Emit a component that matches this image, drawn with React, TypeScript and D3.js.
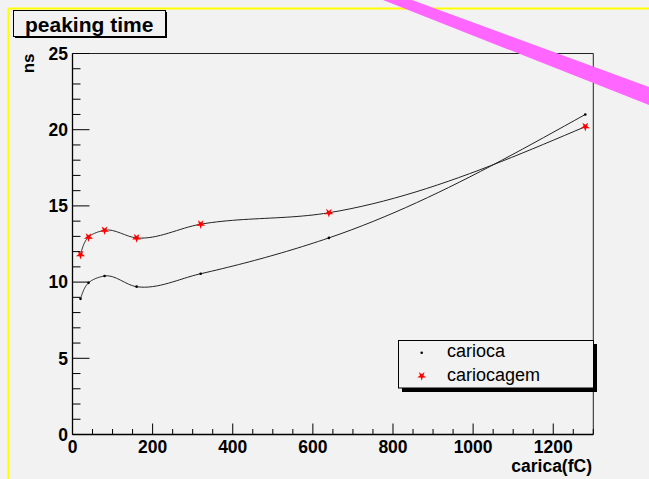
import React from "react";
import * as d3 from "d3";

// Injected charge (fC) and measured peaking times (ns)
const charge = [20, 40, 80, 160, 320, 640, 1280];
const carioca = [8.9, 9.95, 10.4, 9.7, 10.55, 12.9, 21.0];
const cariocagem = [11.8, 12.95, 13.4, 12.9, 13.8, 14.55, 20.2];

const xMajorTicks = [0, 200, 400, 600, 800, 1000, 1200];
const yMajorTicks = [0, 5, 10, 15, 20, 25];

const W = 649;
const H = 479;
const BG = "#f2f2f2";
const FONT = "'Liberation Sans', Arial, Helvetica, sans-serif";

type Pt = [number, number];

// Parametric cubic through screen points: chord-length parameter,
// Bessel tangents inside, natural end conditions at both ends.
function smoothPoints(pts: Pt[], steps = 24): Pt[] {
  const n = pts.length;
  const d: number[] = [];
  const u: Pt[] = [];
  for (let i = 0; i < n - 1; i++) {
    const dx = pts[i + 1][0] - pts[i][0];
    const dy = pts[i + 1][1] - pts[i][1];
    const len = Math.hypot(dx, dy) || 1e-6;
    d.push(len);
    u.push([dx / len, dy / len]);
  }
  const m: Pt[] = new Array(n);
  for (let i = 1; i < n - 1; i++) {
    const a = d[i];
    const b = d[i - 1];
    m[i] = [
      (a * u[i - 1][0] + b * u[i][0]) / (a + b),
      (a * u[i - 1][1] + b * u[i][1]) / (a + b),
    ];
  }
  m[0] = [(3 * u[0][0] - m[1][0]) / 2, (3 * u[0][1] - m[1][1]) / 2];
  m[n - 1] = [
    (3 * u[n - 2][0] - m[n - 2][0]) / 2,
    (3 * u[n - 2][1] - m[n - 2][1]) / 2,
  ];
  const out: Pt[] = [pts[0]];
  for (let i = 0; i < n - 1; i++) {
    const h = d[i];
    for (let k = 1; k <= steps; k++) {
      const s = k / steps;
      const s2 = s * s;
      const s3 = s2 * s;
      const h00 = 2 * s3 - 3 * s2 + 1;
      const h10 = s3 - 2 * s2 + s;
      const h01 = -2 * s3 + 3 * s2;
      const h11 = s3 - s2;
      out.push([
        h00 * pts[i][0] + h10 * h * m[i][0] + h01 * pts[i + 1][0] + h11 * h * m[i + 1][0],
        h00 * pts[i][1] + h10 * h * m[i][1] + h01 * pts[i + 1][1] + h11 * h * m[i + 1][1],
      ]);
    }
  }
  return out;
}

export default function App() {
  const x = d3.scaleLinear().domain([0, 1300]).range([72.5, 593.3]);
  const y = d3.scaleLinear().domain([0, 25]).range([434.5, 53.5]);

  const xMinor = d3.range(0, 1301, 50).filter((v) => v % 200 !== 0);
  const yMinor = d3.range(0, 26, 1).filter((v) => v % 5 !== 0);

  const line = d3.line<Pt>();
  const toScreen = (vals: number[]): Pt[] => vals.map((v, i) => [x(charge[i]), y(v)]);

  const pathA = line(smoothPoints(toScreen(carioca))) || "";
  const pathB = line(smoothPoints(toScreen(cariocagem))) || "";

  const star = d3.symbol().type(d3.symbolStar).size(26)() || "";

  const left = x.range()[0];
  const right = x.range()[1];
  const bottom = y.range()[0];
  const top = y.range()[1];

  return (
    <svg
      width={W}
      height={H}
      style={{ position: "absolute", left: 0, top: 0, background: BG }}
      fontFamily={FONT}
    >
      <rect x={0} y={0} width={W} height={H} fill={BG} />

      {/* pad border */}
      <line x1={8.5} y1={8.5} x2={W} y2={8.5} stroke="#ffff00" strokeWidth={2} />
      <line x1={8.5} y1={8.5} x2={8.5} y2={H} stroke="#ffff00" strokeWidth={2} />

      {/* frame */}
      <line x1={left} y1={top} x2={right} y2={top} stroke="#222" strokeWidth={1} />
      <line x1={right} y1={top} x2={right} y2={bottom} stroke="#222" strokeWidth={1} />

      {/* curves */}
      <path d={pathA} fill="none" stroke="#222" strokeWidth={1} />
      <path d={pathB} fill="none" stroke="#222" strokeWidth={1} />

      {carioca.map((v, i) => (
        <circle key={"a" + i} cx={x(charge[i])} cy={y(v)} r={1.3} fill="#000" />
      ))}
      {cariocagem.map((v, i) => (
        <path
          key={"b" + i}
          d={star}
          transform={`translate(${x(charge[i])},${y(v)}) rotate(180)`}
          fill="#ff0000"
        />
      ))}

      {/* y axis */}
      <line x1={left} y1={top} x2={left} y2={bottom} stroke="#000" strokeWidth={1.3} />
      {yMajorTicks.map((t) => (
        <g key={"ym" + t}>
          <line x1={left} x2={left + 17} y1={y(t)} y2={y(t)} stroke="#000" strokeWidth={1} />
          <text
            x={68}
            y={y(t) + 6.2}
            textAnchor="end"
            fontSize={17.5}
            fontWeight="bold"
            fill="#000"
          >
            {t}
          </text>
        </g>
      ))}
      {yMinor.map((t) => (
        <line key={"yn" + t} x1={left} x2={left + 8} y1={y(t)} y2={y(t)} stroke="#000" strokeWidth={1} />
      ))}

      {/* x axis */}
      <line x1={left} y1={bottom} x2={right} y2={bottom} stroke="#000" strokeWidth={1.3} />
      {xMajorTicks.map((t) => (
        <g key={"xm" + t}>
          <line x1={x(t)} x2={x(t)} y1={bottom} y2={bottom - 11} stroke="#000" strokeWidth={1} />
          <text
            x={x(t)}
            y={452.5}
            textAnchor="middle"
            fontSize={17.5}
            fontWeight="bold"
            fill="#000"
          >
            {t}
          </text>
        </g>
      ))}
      {xMinor.map((t) => (
        <line key={"xn" + t} x1={x(t)} x2={x(t)} y1={bottom} y2={bottom - 5.5} stroke="#000" strokeWidth={1} />
      ))}

      {/* axis titles */}
      <text
        transform="translate(33.5,53.5) rotate(-90)"
        textAnchor="end"
        fontSize={17}
        fontWeight="bold"
        fill="#000"
      >
        ns
      </text>
      <text x={592} y={471.5} textAnchor="end" fontSize={17.5} fontWeight="bold" fill="#000">
        carica(fC)
      </text>

      {/* legend */}
      <rect x={402} y={344} width={195} height={48} fill="#000" />
      <rect x={398.5} y={340.5} width={195} height={47.5} fill={BG} stroke="#000" strokeWidth={1} />
      <circle cx={421.7} cy={352.7} r={1.3} fill="#000" />
      <text x={447} y={357} fontSize={18} fill="#000">
        carioca
      </text>
      <path d={star} transform="translate(421.7,376) rotate(180)" fill="#ff0000" />
      <text x={447} y={381} fontSize={18} fill="#000">
        cariocagem
      </text>

      {/* title */}
      <rect x={15} y={12} width={152} height={26} fill="#000" />
      <rect x={13.5} y={10.5} width={152} height={26} fill={BG} stroke="#000" strokeWidth={1} />
      <text x={25} y={31.5} fontSize={21} fontWeight="bold" fill="#000">
        peaking time
      </text>

      {/* diagonal stroke */}
      <polygon points="383,0 412,0 649,87 649,105" fill="#ff66ff" />
    </svg>
  );
}
